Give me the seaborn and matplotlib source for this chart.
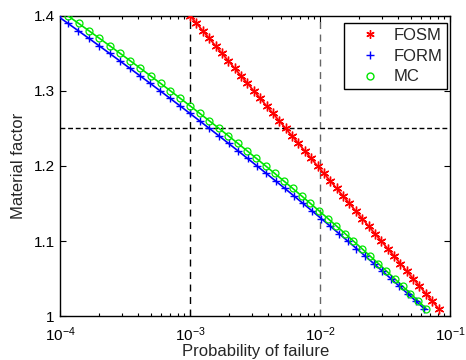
import matplotlib
matplotlib.use("Agg")
import matplotlib.pyplot as plt
from matplotlib.lines import Line2D
from matplotlib.ticker import LogLocator, FixedLocator
import seaborn as sns
import numpy as np

# ---- data ----
material_factor = [1.40, 1.39, 1.38, 1.37, 1.36, 1.35, 1.34, 1.33, 1.32, 1.31,
                   1.30, 1.29, 1.28, 1.27, 1.26, 1.25, 1.24, 1.23, 1.22, 1.21,
                   1.20, 1.19, 1.18, 1.17, 1.16, 1.15, 1.14, 1.13, 1.12, 1.11,
                   1.10, 1.09, 1.08, 1.07, 1.06, 1.05, 1.04, 1.03, 1.02, 1.01]

pf_fosm = [1.000e-3, 1.119e-3, 1.253e-3, 1.403e-3, 1.570e-3, 1.758e-3, 1.968e-3, 2.203e-3,
           2.466e-3, 2.761e-3, 3.090e-3, 3.459e-3, 3.873e-3, 4.335e-3, 4.853e-3, 5.433e-3,
           6.081e-3, 6.808e-3, 7.621e-3, 8.531e-3, 9.550e-3, 1.069e-2, 1.197e-2, 1.340e-2,
           1.500e-2, 1.679e-2, 1.879e-2, 2.104e-2, 2.355e-2, 2.636e-2, 2.951e-2, 3.304e-2,
           3.698e-2, 4.140e-2, 4.634e-2, 5.188e-2, 5.808e-2, 6.501e-2, 7.278e-2, 8.147e-2]

pf_form = [9.52e-5, 1.148e-4, 1.383e-4, 1.664e-4, 2.000e-4, 2.400e-4, 2.877e-4, 3.446e-4,
           4.124e-4, 4.932e-4, 5.888e-4, 7.021e-4, 8.368e-4, 9.959e-4, 1.184e-3, 1.406e-3,
           1.669e-3, 1.977e-3, 2.340e-3, 2.767e-3, 3.268e-3, 3.857e-3, 4.547e-3, 5.355e-3,
           6.295e-3, 7.394e-3, 8.681e-3, 1.018e-2, 1.192e-2, 1.394e-2, 1.629e-2, 1.902e-2,
           2.218e-2, 2.584e-2, 3.006e-2, 3.493e-2, 4.055e-2, 4.704e-2, 5.451e-2, 6.307e-2]

pf_mc = [1.148e-4, 1.385e-4, 1.669e-4, 2.008e-4, 2.412e-4, 2.893e-4, 3.468e-4, 4.152e-4,
         4.963e-4, 5.925e-4, 7.063e-4, 8.411e-4, 1.000e-3, 1.187e-3, 1.408e-3, 1.668e-3,
         1.972e-3, 2.331e-3, 2.749e-3, 3.237e-3, 3.811e-3, 4.477e-3, 5.255e-3, 6.161e-3,
         7.210e-3, 8.425e-3, 9.836e-3, 1.147e-2, 1.335e-2, 1.553e-2, 1.803e-2, 2.091e-2,
         2.422e-2, 2.802e-2, 3.236e-2, 3.733e-2, 4.302e-2, 4.950e-2, 5.689e-2, 6.530e-2]

series_names = ["FOSM", "FORM", "MC"]
ref_pf = [1e-3, 1e-2]
ref_factor = 1.25
y_ticks = [1.0, 1.1, 1.2, 1.3, 1.4]
y_ticklabels = ["1", "1.1", "1.2", "1.3", "1.4"]

# ---- style ----
sns.set_style("ticks")
plt.rcParams["font.family"] = ["Liberation Sans", "DejaVu Sans"]
plt.rcParams["mathtext.fontset"] = "custom"
plt.rcParams["mathtext.rm"] = "Liberation Sans"
plt.rcParams["mathtext.it"] = "Liberation Sans:italic"
plt.rcParams["font.size"] = 11

fig = plt.figure(figsize=(4.66, 3.6), dpi=100)
ax = fig.add_axes([0.129, 0.122, 0.837, 0.834])

colors = {"FOSM": (1, 0, 0), "FORM": (0, 0, 1), "MC": (0, 0.9, 0)}
data = {"FOSM": pf_fosm, "FORM": pf_form, "MC": pf_mc}
star = (6, 2, 0)

# reference lines
for xv in ref_pf:
    ax.axvline(xv, color="black" if xv == ref_pf[0] else "0.4", lw=1.0,
               ls=(0, (5, 4)), zorder=1)
ax.axhline(ref_factor, color="black", lw=1.0, ls=(0, (3.5, 2)), zorder=1)

for name in series_names:
    sns.lineplot(x=data[name], y=material_factor, ax=ax, color=colors[name],
                 lw=1.2, sort=False, estimator=None, zorder=3)

ax.plot(pf_fosm, material_factor, ls="none", marker=star, ms=7, color=colors["FOSM"],
        mew=1.0, zorder=4)
ax.plot(pf_form, material_factor, ls="none", marker="+", ms=6, color=colors["FORM"],
        mew=1.0, zorder=4)
ax.plot(pf_mc, material_factor, ls="none", marker="o", ms=5, mfc="none",
        mec=colors["MC"], mew=0.9, zorder=5)

ax.set_xscale("log")
ax.set_xlim(1e-4, 1e-1)
ax.set_ylim(1.0, 1.4)
ax.yaxis.set_major_locator(FixedLocator(y_ticks))
ax.set_yticklabels(y_ticklabels)
ax.xaxis.set_major_locator(LogLocator(base=10, numticks=10))
ax.xaxis.set_minor_locator(LogLocator(base=10, subs=np.arange(2, 10), numticks=20))

ax.tick_params(which="both", direction="in", top=True, right=True, labelsize=11,
               width=0.8, colors="black")
ax.tick_params(which="major", length=4)
ax.tick_params(which="minor", length=2.2)
ax.tick_params(axis="x", pad=7)
ax.tick_params(axis="y", pad=4)
for sp in ax.spines.values():
    sp.set_linewidth(1.0)
    sp.set_color("black")

ax.set_xlabel("Probability of failure", fontsize=12, labelpad=0)
ax.set_ylabel("Material factor", fontsize=12, labelpad=5)

handles = [
    Line2D([], [], ls="none", marker=star, ms=6, mew=1.0, color=colors["FOSM"]),
    Line2D([], [], ls="none", marker="+", ms=6, color=colors["FORM"], mew=1.0),
    Line2D([], [], ls="none", marker="o", ms=5, mfc="none", mec=colors["MC"]),
]
leg = ax.legend(handles, series_names, loc="upper right", bbox_to_anchor=(0.992, 0.977),
                borderaxespad=0, frameon=True, fancybox=False, framealpha=1,
                edgecolor="black", fontsize=12, handlelength=2.5, handletextpad=0.15,
                labelspacing=0.35, borderpad=0.3)
leg.get_frame().set_linewidth(1.0)

fig.savefig("out.png", dpi=100)
